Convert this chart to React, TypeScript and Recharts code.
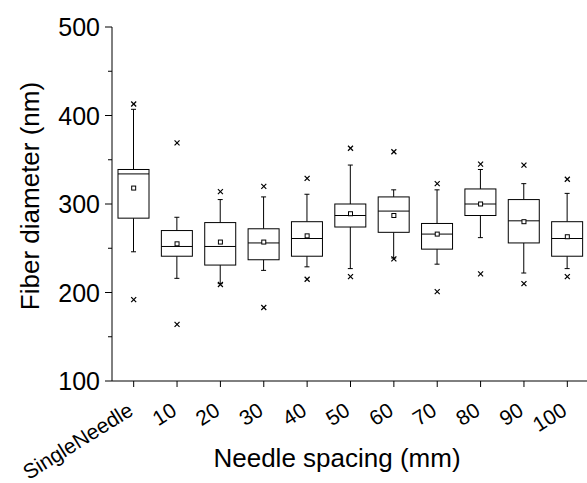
import { ComposedChart, Bar, Scatter, XAxis, YAxis } from "recharts";

const FONT = "'Liberation Sans', Arial, sans-serif";

const spacings = ["SingleNeedle", "10", "20", "30", "40", "50", "60", "70", "80", "90", "100"];
const whiskerLow = [246, 216, 210, 225, 229, 227, 239, 232, 262, 222, 227];
const q1 = [284, 241, 231, 237, 241, 274, 268, 249, 287, 256, 241];
const median = [334, 252, 252, 256, 261, 287, 292, 266, 300, 281, 261];
const q3 = [339, 270, 279, 272, 280, 300, 308, 278, 317, 305, 280];
const whiskerHigh = [407, 285, 305, 308, 311, 344, 316, 316, 339, 323, 312];
const mean = [318, 255, 257, 257, 264, 289, 287, 266, 300, 280, 263];
const minPoint = [192, 164, 209, 183, 215, 218, 238, 201, 221, 210, 218];
const maxPoint = [413, 369, 314, 320, 329, 363, 359, 323, 345, 344, 328];

const yTicks = [100, 150, 200, 250, 300, 350, 400, 450, 500];

const rows = spacings.map((name, i) => ({
  name,
  range: [whiskerLow[i], whiskerHigh[i]],
  lo: whiskerLow[i],
  q1: q1[i],
  median: median[i],
  q3: q3[i],
  hi: whiskerHigh[i],
  mean: mean[i],
  minPoint: minPoint[i],
  maxPoint: maxPoint[i],
}));

// whisker-to-whisker bar, with the box and median placed on the same linear scale
const BoxShape = (props: any) => {
  const { x, y, width, height, payload } = props;
  const top = Math.min(y, y + height);
  const h = Math.abs(height);
  const { lo, hi } = payload;
  const toY = (v: number) => top + ((hi - v) / (hi - lo)) * h;
  const cx = x + width / 2;
  const cap = 2.5;
  const yQ1 = toY(payload.q1);
  const yQ3 = toY(payload.q3);
  const yMed = toY(payload.median);
  return (
    <g stroke="#000" strokeWidth={1} fill="none">
      <line x1={cx} x2={cx} y1={toY(hi)} y2={yQ3} />
      <line x1={cx} x2={cx} y1={yQ1} y2={toY(lo)} />
      <line x1={cx - cap} x2={cx + cap} y1={toY(hi)} y2={toY(hi)} />
      <line x1={cx - cap} x2={cx + cap} y1={toY(lo)} y2={toY(lo)} />
      <rect x={x} y={yQ3} width={width} height={yQ1 - yQ3} fill="#fff" />
      <line x1={x} x2={x + width} y1={yMed} y2={yMed} />
    </g>
  );
};

const MeanMark = (props: any) => {
  const { cx, cy } = props;
  return <rect x={cx - 2} y={cy - 2} width={4} height={4} fill="#fff" stroke="#000" strokeWidth={1} />;
};

const CrossMark = (props: any) => {
  const { cx, cy } = props;
  const s = 2.5;
  return (
    <g stroke="#000" strokeWidth={1.2}>
      <line x1={cx - s} x2={cx + s} y1={cy - s} y2={cy + s} />
      <line x1={cx - s} x2={cx + s} y1={cy + s} y2={cy - s} />
    </g>
  );
};

const YTick = (props: any) => {
  const { x, y, payload } = props;
  const major = payload.value % 100 === 0;
  return (
    <g>
      <line x1={x - (major ? 7 : 4)} x2={x} y1={y} y2={y} stroke="#000" strokeWidth={1} />
      {major && (
        <text x={x - 12} y={y} textAnchor="end" dominantBaseline="central" fontSize={25} fontFamily={FONT} fill="#000">
          {payload.value}
        </text>
      )}
    </g>
  );
};

const XTick = (props: any) => {
  const { x, y, payload } = props;
  const ax = x + 1;
  const ay = y + 27;
  return (
    <text
      x={ax}
      y={ay}
      textAnchor="end"
      fontSize={21}
      fontFamily={FONT}
      fill="#000"
      transform={`rotate(-32, ${ax}, ${ay})`}
    >
      {payload.value}
    </text>
  );
};

export default function App() {
  return (
    <div style={{ position: "fixed", left: 0, top: 0, width: 587, height: 483, overflow: "hidden", background: "#fff" }}>
      <ComposedChart width={600} height={483} data={rows} margin={{ top: 27, right: 11, bottom: 0, left: 0 }}>
        <XAxis
          dataKey="name"
          type="category"
          height={102}
          interval={0}
          tickSize={6}
          tickMargin={0}
          axisLine={{ stroke: "#000", strokeWidth: 1 }}
          tickLine={{ stroke: "#000", strokeWidth: 1 }}
          tick={<XTick />}
          label={{
            content: () => (
              <text x={337} y={467} textAnchor="middle" fontSize={26} fontFamily={FONT} fill="#000">
                Needle spacing (mm)
              </text>
            ),
          }}
        />
        <YAxis
          type="number"
          domain={[100, 500]}
          ticks={yTicks}
          interval={0}
          width={112}
          tickSize={0}
          tickMargin={0}
          tickLine={false}
          axisLine={{ stroke: "#000", strokeWidth: 1 }}
          tick={<YTick />}
          label={{
            content: () => (
              <text
                x={39}
                y={196}
                textAnchor="middle"
                fontSize={26}
                fontFamily={FONT}
                fill="#000"
                transform="rotate(-90, 39, 196)"
              >
                Fiber diameter (nm)
              </text>
            ),
          }}
        />
        <Bar dataKey="range" barSize={31} shape={<BoxShape />} isAnimationActive={false} />
        <Scatter dataKey="mean" shape={<MeanMark />} isAnimationActive={false} />
        <Scatter dataKey="minPoint" shape={<CrossMark />} isAnimationActive={false} />
        <Scatter dataKey="maxPoint" shape={<CrossMark />} isAnimationActive={false} />
      </ComposedChart>
    </div>
  );
}
